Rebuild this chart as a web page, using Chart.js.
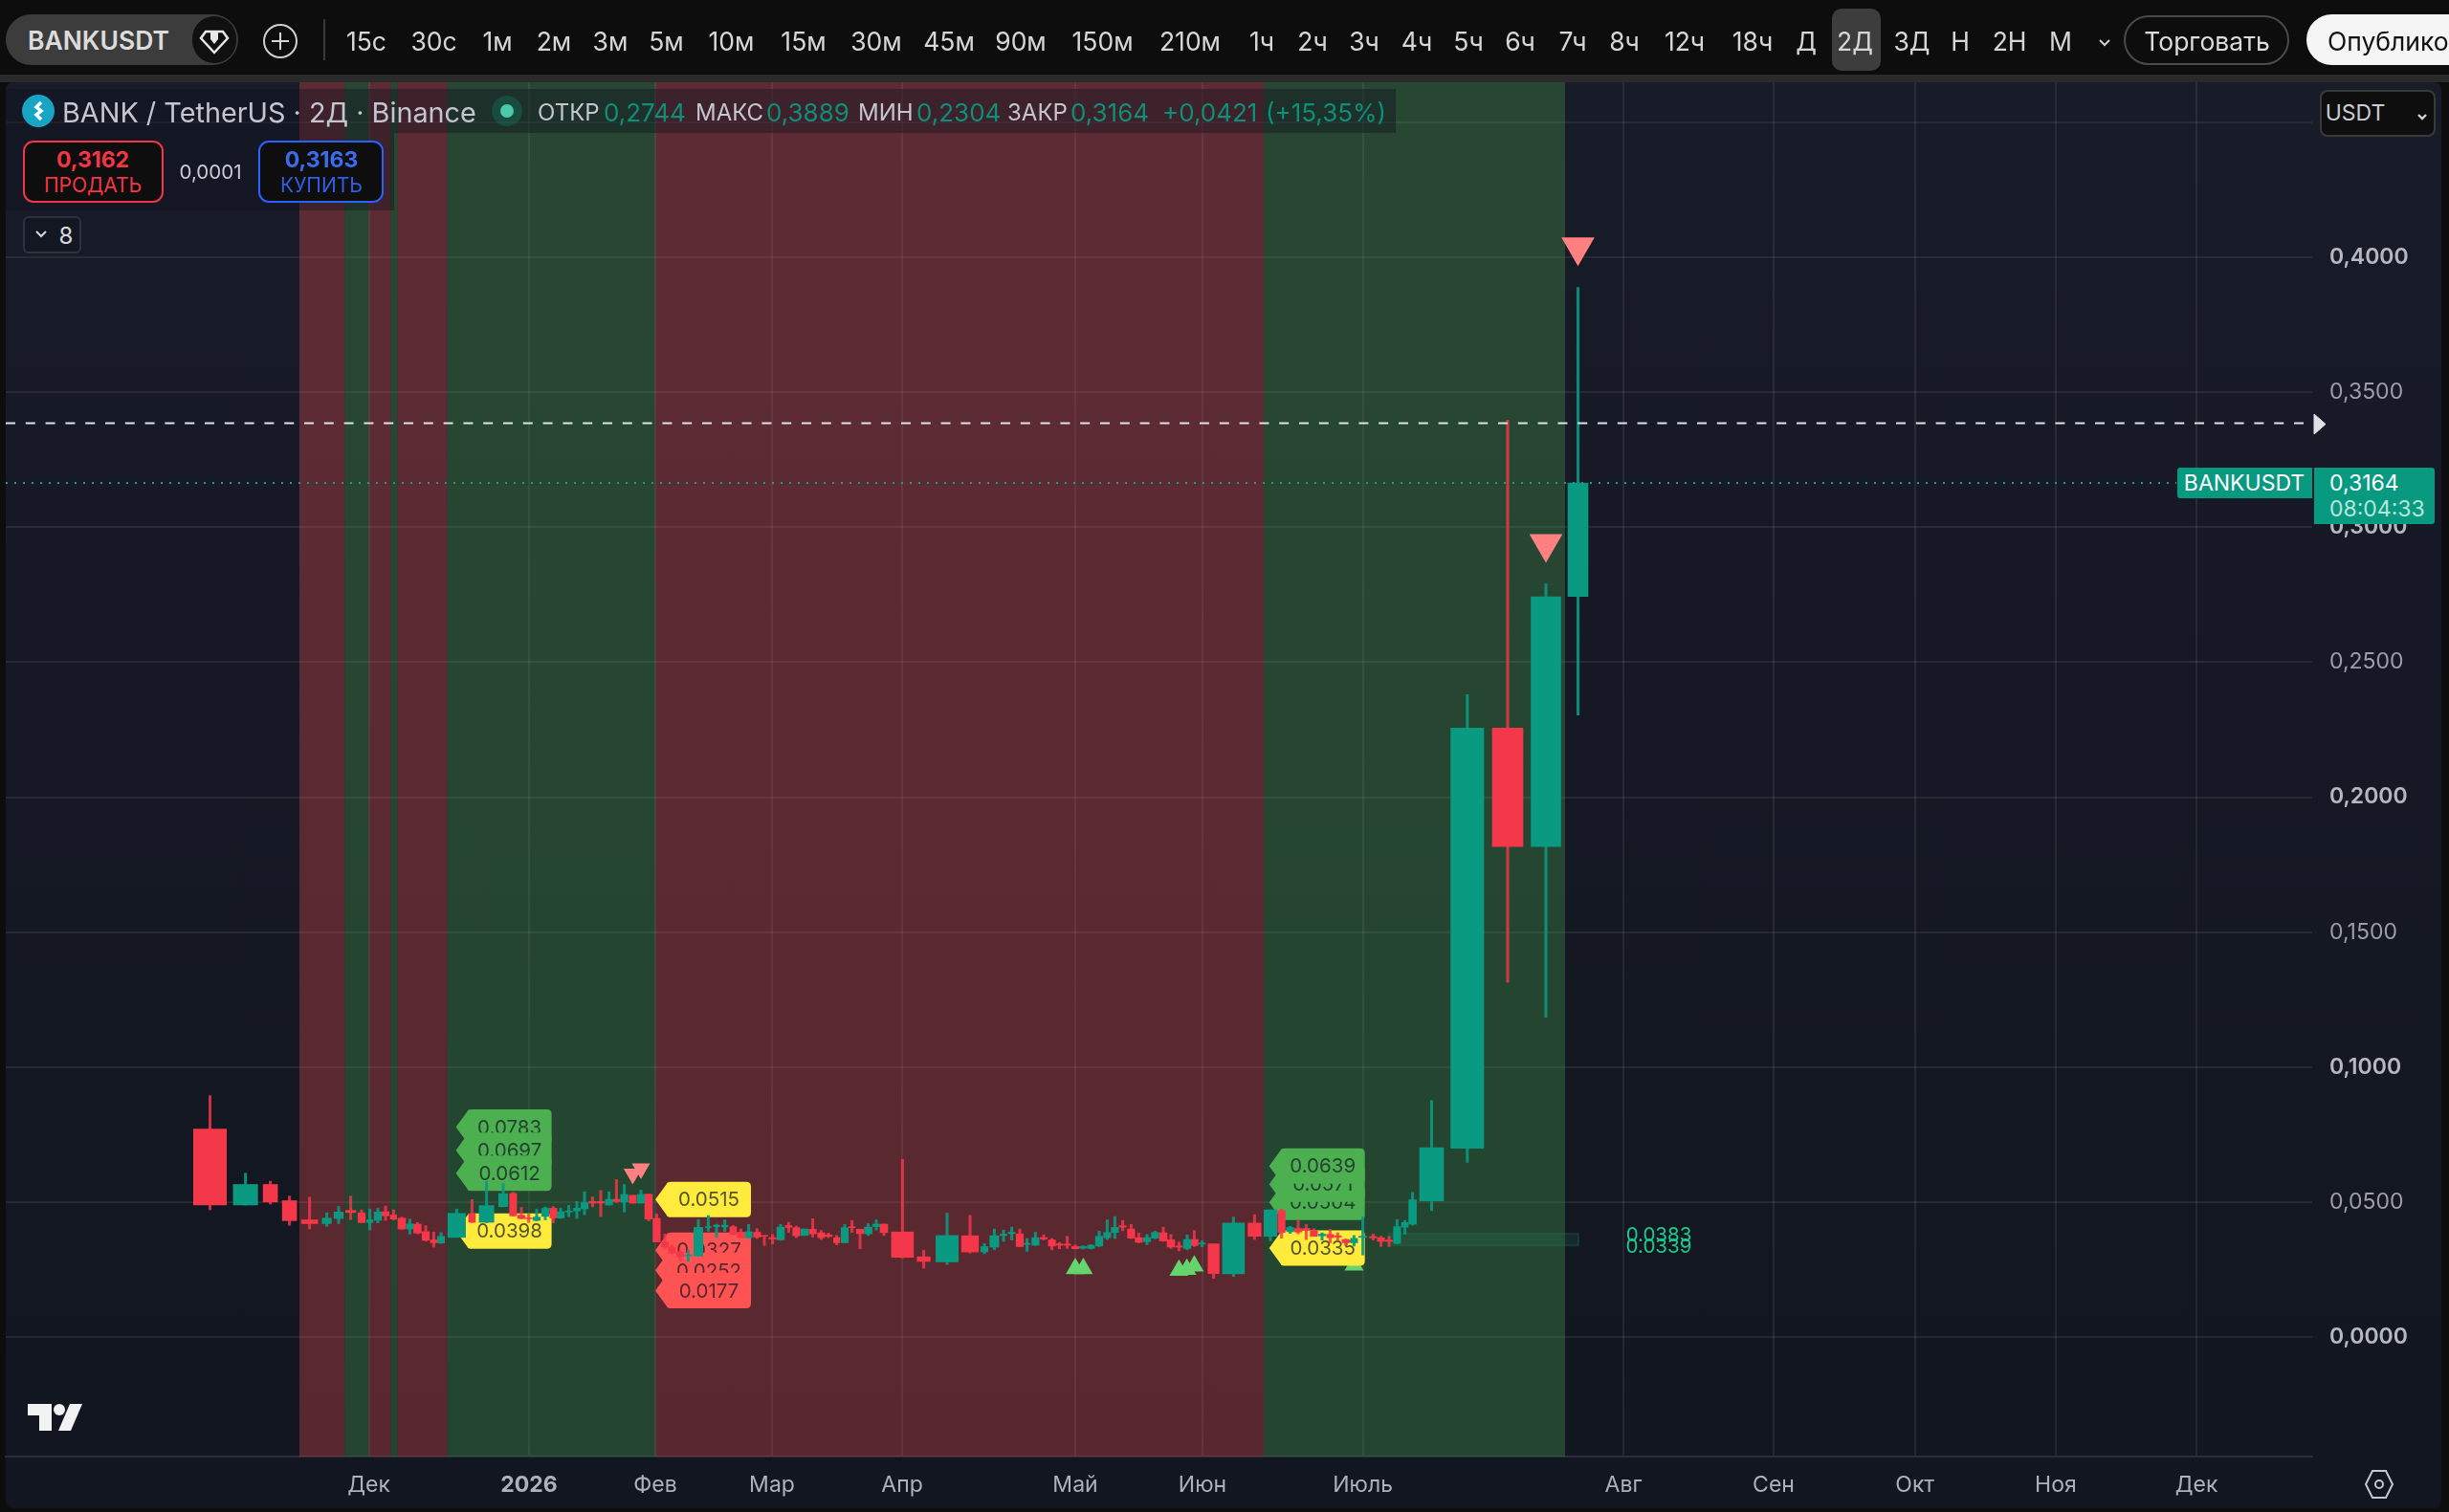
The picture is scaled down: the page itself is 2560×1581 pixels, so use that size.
<!DOCTYPE html>
<html lang="ru">
<head>
<meta charset="utf-8">
<title>BANKUSDT</title>
<script src="https://cdn.jsdelivr.net/npm/chart.js@4/dist/chart.umd.min.js"></script>
<style>
    html, body { margin: 0; padding: 0; width: 2560px; height: 1581px; overflow: hidden; background: #0d0d0d; font-family: Inter, sans-serif; }
    #panel { position: absolute; left: 6px; top: 86px; width: 2546px; height: 1491px; border-radius: 8px; background: linear-gradient(#181b28, #121620); }
    #sep { position: absolute; left: 0; top: 78px; width: 2560px; height: 8px; background: #2a2a2a; }
    canvas { position: absolute; left: 0; top: 0; }
    .ui { position: absolute; z-index: 2; white-space: nowrap; }
    .mid { transform: translate(-50%, -50%); }
    .tf { color: #d6d6d6; font-size: 26.5px; }
    .legendTxt { font-size: 24px; color: #c3c6cf; top: 117px; transform: translateY(-50%); }
    .legendVal { color: #0e8f78; font-size: 26px; }
</style>
</head>
<body>
<div id="sep"></div>
<div id="panel"></div>
<canvas id="chart" width="2560" height="1581"></canvas>
<div id="ui"></div>
<script>
// Candles, left to right. barPos is the place on the compressed time axis, barVolume the candle width
const barPos = [10.75, 29.3, 42.3, 52.3, 62.8, 71.8, 78, 84.3, 90, 94.3, 98.5, 102.5, 106.7, 111, 115.2, 119.2, 123.5, 127.7, 131.5, 139.7,
    147.7, 155.3, 164, 169.2, 173.5, 177.3, 181.5, 186, 190.2, 194, 198.3, 202.5, 206.5, 210.7, 215, 219.3, 223.2, 227.3, 231.7, 236,
    240, 244.2, 248.5, 252.2, 256.5, 260.7, 266, 271.2, 275.5, 279.8, 284.2, 288.2, 292.3, 296.7, 300.5, 304.8, 309, 313.2, 317.2, 321.5,
    325.8, 330.2, 334, 338.3, 342.5, 346.3, 350.5, 354.8, 359, 363, 372.7, 383.8, 396, 408, 415.5, 420.7, 425.5, 429.8, 434, 437.8,
    442.2, 446.5, 450.8, 454.7, 458.8, 463, 467, 471.2, 475.5, 479.7, 483.7, 487.8, 492.2, 496.2, 500.5, 504.7, 509, 513, 517.2, 521.5,
    525.2, 529.3, 535.3, 545.7, 556.7, 565, 570.8, 575.3, 579.5, 583.7, 587.7, 592, 596.2, 600.2, 604.3, 608.7, 613.3, 618.7, 622.8, 627,
    631.2, 635.3, 639.3, 649.25, 667.9, 689, 709, 725.75];
const barVolume = [17.2, 12.7, 7.5, 7.5, 8.5, 4.8, 4.8, 5.3, 3.8, 3.3, 3.8, 3.7, 3.3, 4, 3.5, 4, 3.8, 3.5, 3.7, 9.2,
    3.5, 7.7, 4.7, 3.7, 3.8, 3.7, 3.8, 3.8, 3.7, 3.8, 3.7, 3.5, 3.7, 3.8, 3.8, 3.8, 3.8, 3.8, 3.7, 3.8,
    4, 3.8, 3.7, 3.7, 3.7, 3.5, 4.7, 3, 3.3, 3.3, 3.5, 3.7, 3.7, 3.7, 3.7, 3.7, 4, 3.5, 3.7, 4,
    3.8, 3.7, 4, 3.3, 3.8, 3.3, 3.8, 4, 3.8, 4, 11.5, 6.8, 11.7, 8.8, 3.8, 4.7, 3.7, 3.7, 3.8, 3.3,
    3.8, 3.7, 3.7, 3.5, 3.7, 3.8, 3.5, 3.7, 3.8, 3.7, 3.8, 3.8, 3.8, 3.8, 3.8, 3.8, 4, 4, 3.5, 4,
    4, 3.5, 5.8, 11.5, 6.8, 6.7, 3.8, 3.7, 3.8, 3.8, 3.8, 3.8, 3.5, 3.7, 3.8, 3.7, 4.3, 3.8, 3.8, 3.7,
    3.7, 3.5, 4, 12.5, 17.2, 16, 15.5, 10.5];
const barOpen = [.0770, .0489, .0565, .0505, .0434, .0420, .0439, .0469, .0460, .0424, .0432, .0464, .0452, .0440, .0400, .0418, .0390, .0360, .0348, .0369,
    .0457, .0425, .0483, .0532, .0451, .0441, .0432, .0447, .0477, .0441, .0463, .0467, .0475, .0502, .0502, .0489, .0510, .0500, .0525, .0496,
    .0529, .0439, .0352, .0333, .0314, .0301, .0300, .0405, .0409, .0408, .0408, .0388, .0368, .0388, .0376, .0368, .0360, .0413, .0405, .0376,
    .0399, .0386, .0378, .0368, .0349, .0409, .0399, .0382, .0409, .0418, .0389, .0297, .0278, .0375, .0315, .0333, .0376, .0383, .0382, .0343,
    .0340, .0368, .0360, .0345, .0344, .0335, .0329, .0328, .0337, .0368, .0387, .0412, .0400, .0368, .0353, .0366, .0386, .0360, .0337, .0328,
    .0361, .0344, .0345, .0234, .0422, .0373, .0468, .0390, .0402, .0402, .0394, .0375, .0380, .0375, .0361, .0349, .0369, .0372, .0368, .0359,
    .0347, .0407, .0418, .0504, .0699, .2256, .1817, .2744];
const barHigh = [.0894, .0607, .0577, .0522, .0518, .0460, .0484, .0522, .0471, .0474, .0477, .0485, .0471, .0444, .0437, .0424, .0412, .0389, .0387, .0474,
    .0509, .0577, .0568, .0536, .0480, .0456, .0474, .0482, .0483, .0477, .0488, .0502, .0538, .0519, .0543, .0538, .0583, .0565, .0525, .0544,
    .0529, .0456, .0382, .0341, .0321, .0321, .0435, .0450, .0418, .0434, .0413, .0400, .0417, .0401, .0376, .0380, .0417, .0425, .0411, .0400,
    .0438, .0395, .0385, .0376, .0417, .0432, .0399, .0420, .0434, .0418, .0658, .0321, .0459, .0451, .0346, .0400, .0396, .0407, .0400, .0365,
    .0388, .0379, .0365, .0350, .0373, .0341, .0338, .0342, .0392, .0434, .0446, .0432, .0417, .0385, .0380, .0392, .0407, .0380, .0352, .0378,
    .0394, .0356, .0345, .0444, .0453, .0471, .0474, .0410, .0434, .0417, .0401, .0386, .0399, .0386, .0363, .0376, .0445, .0382, .0373, .0373,
    .0435, .0432, .0536, .0876, .2380, .3397, .2790, .3889];
const barLow = [.0471, .0489, .0493, .0414, .0400, .0410, .0420, .0435, .0423, .0397, .0423, .0432, .0434, .0399, .0381, .0382, .0356, .0333, .0347, .0369,
    .0424, .0423, .0482, .0448, .0437, .0424, .0430, .0434, .0423, .0439, .0446, .0439, .0453, .0482, .0446, .0489, .0498, .0463, .0496, .0496,
    .0430, .0352, .0326, .0309, .0282, .0280, .0300, .0392, .0368, .0391, .0378, .0366, .0366, .0365, .0339, .0345, .0358, .0387, .0368, .0376,
    .0370, .0361, .0368, .0342, .0349, .0387, .0327, .0376, .0396, .0376, .0293, .0255, .0269, .0311, .0308, .0323, .0354, .0359, .0335, .0317,
    .0339, .0360, .0323, .0327, .0328, .0326, .0326, .0326, .0335, .0361, .0365, .0394, .0365, .0349, .0342, .0364, .0354, .0328, .0319, .0323,
    .0335, .0334, .0217, .0224, .0361, .0356, .0366, .0384, .0382, .0361, .0373, .0359, .0349, .0356, .0339, .0337, .0304, .0359, .0335, .0335,
    .0345, .0381, .0414, .0468, .0647, .1314, .1185, .2304];
const barClose = [.0489, .0565, .0500, .0431, .0420, .0440, .0463, .0461, .0424, .0434, .0463, .0449, .0437, .0400, .0419, .0385, .0358, .0349, .0373, .0458,
    .0425, .0487, .0531, .0449, .0439, .0438, .0444, .0477, .0441, .0464, .0467, .0477, .0498, .0496, .0496, .0510, .0502, .0528, .0496, .0528,
    .0437, .0352, .0333, .0311, .0297, .0304, .0406, .0409, .0414, .0414, .0380, .0368, .0390, .0370, .0373, .0363, .0407, .0406, .0375, .0400,
    .0382, .0368, .0373, .0349, .0405, .0405, .0383, .0407, .0418, .0387, .0295, .0280, .0376, .0315, .0335, .0375, .0381, .0388, .0335, .0347,
    .0368, .0363, .0337, .0340, .0340, .0327, .0335, .0340, .0373, .0387, .0406, .0407, .0366, .0351, .0368, .0387, .0356, .0333, .0333, .0361,
    .0339, .0348, .0235, .0422, .0373, .0471, .0387, .0406, .0389, .0396, .0373, .0381, .0368, .0370, .0349, .0365, .0373, .0367, .0354, .0354,
    .0409, .0424, .0508, .0701, .2256, .1817, .2742, .3164];

// Axis ticks
const monthPos = [93.75, 177.5, 243.5, 304.5, 372.5, 463, 529.5, 613.3, 749.5, 828, 901.85, 975.45, 1049];
const monthLabels = ['Дек', '2026', 'Фев', 'Мар', 'Апр', 'Май', 'Июн', 'Июль', 'Авг', 'Сен', 'Окт', 'Ноя', 'Дек'];
const priceTicks = [0, .05, .1, .15, .2, .25, .3, .35, .4, .45];
const priceTickLabels = ['0,0000', '0,0500', '0,1000', '0,1500', '0,2000', '0,2500', '0,3000', '0,3500', '0,4000', ''];

// Trend background bands
const bandStart = [57.5, 81.25, 93.75, 105.25, 108.75, 134.75, 243.5, 561.5];
const bandEnd = [81.25, 93.75, 105.25, 108.75, 134.75, 243.5, 561.5, 719];
const bandKind = ['down', 'up', 'down', 'up', 'down', 'up', 'down', 'up'];

// Price tags in drawing order: later ones lie on top
const tagPos = [139.3, 139.3, 139.3, 139.3, 243.5, 243.5, 243.5, 243.5, 564.35, 564.35, 564.35, 564.35];
const tagValue = [.0783, .0697, .0612, .0398, .0515, .0327, .0252, .0177, .0504, .0571, .0639, .0335];
const tagKind = ['target', 'target', 'target', 'entry', 'entry', 'stop', 'stop', 'stop', 'target', 'target', 'target', 'entry'];

// Markers
const bigDownPos = [725.75, 709];
const bigDownValue = [.4039, .2939];
const smallDownPos = [231.7, 236];
const smallDownValue = [.0604, .0624];
const upPos = [463, 467.2, 517.2, 521.3, 525.2, 608.7];
const upValue = [.0253, .0253, .0247, .0251, .0263, .0267];

// Lines and the small zone on the right
const crossValue = .3386;
const lastPrice = .3164;
const lastPriceEnd = 1038.5;
const zoneStart = 626.9;
const zoneEnd = 726;
const zoneTop = .0383;
const zoneBottom = .0339;
const zoneTextPos = 767.5;

const xMin = -96;
const xMax = 1109.5;
const yMin = -.0443;
const yMax = .4649;

const UP = '#0a9981';
const DOWN = '#f5374a';
const BAR_SCALE = 2; // pixels per volume unit
const TAG_COLORS = { target: '#4caf50', entry: '#ffeb3b', stop: '#ff5252' };

function buildDatasets() {
    const colors = barOpen.map((o, i) => barClose[i] >= o ? UP : DOWN);
    const wickColors = barOpen.map((o, i) => barClose[i] >= o ? 'rgba(10,153,129,.9)' : 'rgba(245,55,74,.82)');
    const marker = (points, color, radius, rotation) => ({
        type: 'scatter', data: points, pointStyle: 'triangle', pointBackgroundColor: color,
        pointBorderWidth: 0, pointRadius: radius, pointRotation: rotation, order: 5
    });
    const list = [
        marker(bigDownPos.map((x, i) => ({ x, y: bigDownValue[i] })), '#ff8080', 20, 180),
        marker(smallDownPos.map((x, i) => ({ x, y: smallDownValue[i] })), '#ff8080', 11, 180),
        marker(upPos.map((x, i) => ({ x, y: upValue[i] })), '#66d46c', 11.5, 0),
        {
            type: 'bar', label: 'wicks', grouped: false, barThickness: 2.4, order: 2, borderWidth: 0,
            backgroundColor: wickColors,
            data: barPos.map((x, i) => ({ x, y: [barLow[i], barHigh[i]] }))
        },
        {
            type: 'line', data: [{ x: xMin, y: crossValue }, { x: xMax, y: crossValue }], borderColor: '#e0e1e6',
            borderWidth: 2, borderDash: [10, 10.8], pointRadius: 0, order: 0
        },
        {
            type: 'line', data: [{ x: xMin, y: lastPrice }, { x: lastPriceEnd, y: lastPrice }], borderColor: '#1f9c86',
            borderWidth: 2, borderDash: [2, 7], pointRadius: 0, order: 0
        }
    ];
    // every body is its own dataset because each one has its own width
    barPos.forEach((x, i) => {
        list.push({
            type: 'bar', grouped: false, barThickness: barVolume[i] * BAR_SCALE, order: 1, borderWidth: 0,
            backgroundColor: colors[i],
            data: [{ x, y: [barOpen[i], barClose[i]] }]
        });
    });
    return list;
}

function drawTag(ctx, tip, mid, text, kind) {
    const left = tip + 12, right = tip + 100, h = 37, r = 5;
    ctx.fillStyle = TAG_COLORS[kind];
    ctx.beginPath();
    ctx.moveTo(tip, mid);
    ctx.lineTo(left, mid - h / 2 + 2);
    ctx.quadraticCurveTo(left, mid - h / 2, left + r, mid - h / 2);
    ctx.lineTo(right - r, mid - h / 2);
    ctx.quadraticCurveTo(right, mid - h / 2, right, mid - h / 2 + r);
    ctx.lineTo(right, mid + h / 2 - r);
    ctx.quadraticCurveTo(right, mid + h / 2, right - r, mid + h / 2);
    ctx.lineTo(left + r, mid + h / 2);
    ctx.quadraticCurveTo(left, mid + h / 2, left, mid + h / 2 - 2);
    ctx.closePath();
    ctx.fill();
    ctx.fillStyle = 'rgba(19,23,34,.72)';
    ctx.font = '20.5px Inter';
    ctx.textAlign = 'center';
    ctx.textBaseline = 'middle';
    ctx.fillText(text, (left + right) / 2, mid + 1);
}

const backdropPlugin = {
    id: 'backdrop',
    // bands sit over the grid and under all the marks
    beforeDatasetsDraw(chart) {
        const { ctx, scales, chartArea } = chart;
        bandStart.forEach((start, i) => {
            const a = scales.x.getPixelForValue(start);
            const b = scales.x.getPixelForValue(bandEnd[i]);
            ctx.fillStyle = bandKind[i] === 'up' ? 'rgba(76,175,80,.3)' : 'rgba(255,82,82,.3)';
            ctx.fillRect(a, chartArea.top, b - a, chartArea.bottom - chartArea.top);
        });
    },
    // tags and the zone go under the candles
    beforeDatasetDraw(chart, args) {
        if (chart.data.datasets[args.index].label !== 'wicks') return;
        const { ctx, scales } = chart;
        const zx = scales.x.getPixelForValue(zoneStart);
        const zw = scales.x.getPixelForValue(zoneEnd) - zx;
        const zy = scales.y.getPixelForValue(zoneTop);
        const zh = scales.y.getPixelForValue(zoneBottom) - zy;
        ctx.save();
        ctx.fillStyle = 'rgba(30,140,100,.16)';
        ctx.strokeStyle = 'rgba(30,140,100,.22)';
        ctx.lineWidth = 2;
        ctx.fillRect(zx, zy, zw, zh);
        ctx.strokeRect(zx, zy, zw, zh);
        ctx.fillStyle = '#1ccb8b';
        ctx.font = '20.5px Inter';
        ctx.textAlign = 'center';
        ctx.textBaseline = 'middle';
        ctx.fillText(zoneTop.toFixed(4), scales.x.getPixelForValue(zoneTextPos) + 1, zy + 2);
        ctx.fillText(zoneBottom.toFixed(4), scales.x.getPixelForValue(zoneTextPos) + 1, zy + zh + 2);
        tagPos.forEach((pos, i) => {
            drawTag(ctx, scales.x.getPixelForValue(pos), scales.y.getPixelForValue(tagValue[i]) + 1.5, tagValue[i].toFixed(4), tagKind[i]);
        });
        ctx.restore();
    }
};

new Chart(document.getElementById('chart').getContext('2d'), {
    type: 'bar',
    data: { datasets: buildDatasets() },
    plugins: [backdropPlugin],
    options: {
        responsive: false,
        devicePixelRatio: 1,
        animation: false,
        events: [],
        layout: { autoPadding: false, padding: { left: 6, top: 86, right: 8, bottom: 4 } },
        plugins: { legend: { display: false }, tooltip: { enabled: false } },
        scales: {
            x: {
                type: 'linear', offset: false, min: xMin, max: xMax,
                grid: { offset: false, color: 'rgba(255,255,255,.075)', lineWidth: 2, drawTicks: false },
                border: { color: '#2a2e39', width: 2 },
                afterBuildTicks(scale) { scale.ticks = monthPos.map(value => ({ value })); },
                afterFit(scale) { scale.height = 54; scale.paddingLeft = 0; scale.paddingRight = 0; },
                ticks: {
                    autoSkip: false, maxRotation: 0, padding: 16, color: '#aeb1bb',
                    font: ctx => ({ family: 'Inter', size: 23, weight: monthLabels[ctx.index] === '2026' ? '700' : '400' }),
                    callback: (value, index) => monthLabels[index]
                }
            },
            y: {
                type: 'linear', position: 'right', min: yMin, max: yMax,
                grid: { color: 'rgba(255,255,255,.075)', lineWidth: 2, drawTicks: false },
                border: { display: false },
                afterBuildTicks(scale) { scale.ticks = priceTicks.map(value => ({ value })); },
                afterFit(scale) { scale.width = 135; },
                ticks: {
                    autoSkip: false, padding: 18, crossAlign: 'near',
                    color: ctx => ctx.index % 2 === 0 ? '#b5b8c1' : '#9b9ea8',
                    font: ctx => ({ family: 'Inter', size: 23, weight: ctx.index % 2 === 0 ? '600' : '400' }),
                    callback: (value, index) => priceTickLabels[index]
                }
            }
        }
    }
});

// Everything around the plot
const timeframes = [['15с', 383], ['30с', 453.6], ['1м', 520], ['2м', 579], ['3м', 638], ['5м', 696.5], ['10м', 764.5], ['15м', 840], ['30м', 916], ['45м', 992],
    ['90м', 1067], ['150м', 1152.6], ['210м', 1244], ['1ч', 1319], ['2ч', 1372], ['3ч', 1426], ['4ч', 1481], ['5ч', 1535], ['6ч', 1589], ['7ч', 1644], ['8ч', 1698],
    ['12ч', 1761], ['18ч', 1832], ['Д', 1888], ['2Д', 1939], ['3Д', 1998.5], ['Н', 2049], ['2Н', 2100.6], ['М', 2154]];
const legendItems = [['ОТКР', 562, 0], ['0,2744', 631, 1], ['МАКС', 727, 0], ['0,3889', 801, 1], ['МИН', 897, 0], ['0,2304', 958, 1],
    ['ЗАКР', 1053, 0], ['0,3164', 1119, 1], ['+0,0421', 1215, 1], ['(+15,35%)', 1323, 1]];

function box(x, y, w, h, css, html) {
    return `<div class="ui" style="left:${x}px;top:${y}px;width:${w}px;height:${h}px;${css}">${html || ''}</div>`;
}
function label(x, y, text, css) {
    return `<div class="ui mid" style="left:${x}px;top:${y}px;${css}">${text}</div>`;
}

function buildUi() {
    let html = '';
    // top bar
    html += box(6, 15, 243, 53, 'background:#3c3c3c;border-radius:27px;');
    html += label(103, 42, 'BANKUSDT', 'color:#dcdcdc;font-size:26.5px;font-weight:600;');
    html += box(201, 17, 46, 49, 'background:#101010;border-radius:25px;',
        '<svg width="46" height="49" viewBox="0 0 46 49"><path d="M14 16h18l5 7-14 15L9 23z" fill="none" stroke="#e8e8e8" stroke-width="2.5"/><path d="M19 16h8v8l-4 5-4-5z" fill="#e8e8e8"/></svg>');
    html += box(275, 25, 36, 36, 'border:2px solid #cfcfcf;border-radius:50%;box-sizing:border-box;',
        '<svg width="32" height="32" viewBox="0 0 32 32"><path d="M16 7v18M7 16h18" stroke="#d6d6d6" stroke-width="2"/></svg>');
    html += box(338, 20, 2, 43, 'background:#3a3a3a;');
    html += box(1915, 9, 51, 65, 'background:#3d3d3d;border-radius:10px;');
    timeframes.forEach(t => { html += `<div class="ui mid tf" style="left:${t[1]}px;top:43px;">${t[0]}</div>`; });
    html += box(2192, 36, 16, 14, '', '<svg width="16" height="14" viewBox="0 0 16 14"><path d="M3 4l5 5 5-5" fill="none" stroke="#cfcfcf" stroke-width="2"/></svg>');
    html += box(2220, 16, 173, 52, 'border:2px solid #4a4a4a;border-radius:27px;box-sizing:border-box;');
    html += label(2307, 43, 'Торговать', 'color:#dcdcdc;font-size:26.5px;');
    html += box(2411, 15, 149, 53, 'background:#f5f5f5;border-radius:27px 0 0 27px;overflow:hidden;',
        '<div style="position:absolute;left:22px;top:12px;color:#111;font-size:26.5px;">Опубликовать</div>');

    // legend strip
    html += box(6, 93, 1453, 46, 'background:rgba(16,20,30,.42);');
    html += box(6, 139, 406, 81, 'background:rgba(16,20,30,.42);');
    html += box(23, 99, 34, 34, 'background:#18a5c4;border-radius:50%;',
        '<svg width="34" height="34" viewBox="0 0 34 34"><path d="M20 8l-5 5 5 4-5 4 5 5" fill="none" stroke="#fff" stroke-width="3.5"/></svg>');
    html += `<div class="ui legendTxt" style="left:65px;font-size:28.8px;">BANK / TetherUS · 2Д · Binance</div>`;
    html += box(514, 100, 32, 32, 'background:rgba(10,153,129,.25);border-radius:50%;',
        '<div style="position:absolute;left:9px;top:9px;width:14px;height:14px;border-radius:50%;background:#4cc9a8;"></div>');
    legendItems.forEach(t => {
        html += `<div class="ui legendTxt ${t[2] ? 'legendVal' : ''}" style="left:${t[1]}px;">${t[0]}</div>`;
    });

    // sell / buy
    html += box(24, 147, 147, 65, 'background:#0e0e0e;border:2px solid #f23645;border-radius:11px;box-sizing:border-box;');
    html += label(97, 167, '0,3162', 'color:#f23645;font-size:23px;font-weight:700;');
    html += label(97, 193, 'ПРОДАТЬ', 'color:#f23645;font-size:21px;');
    html += label(220, 179, '0,0001', 'color:#c9ccd4;font-size:20.5px;');
    html += box(270, 147, 131, 65, 'background:#0e0e0e;border:2px solid #2962ff;border-radius:11px;box-sizing:border-box;');
    html += label(336, 167, '0,3163', 'color:#3b6cf0;font-size:23px;font-weight:700;');
    html += label(336, 193, 'КУПИТЬ', 'color:#2f5fe8;font-size:21px;');
    html += box(24, 226, 61, 39, 'background:#131722;border:2px solid #2e3240;border-radius:6px;box-sizing:border-box;',
        '<svg style="position:absolute;left:9px;top:11px" width="16" height="12" viewBox="0 0 16 12"><path d="M3 3l5 5 5-5" fill="none" stroke="#d6d8de" stroke-width="2"/></svg>');
    html += label(69, 246, '8', 'color:#d6d8de;font-size:24px;');

    // right side
    html += box(2425, 94, 121, 49, 'background:#0e0e0e;border:2px solid #3a3a3a;border-radius:8px;box-sizing:border-box;');
    html += label(2462, 118, 'USDT', 'color:#c9ccd4;font-size:23px;');
    html += box(2524, 113, 16, 12, '', '<svg width="16" height="12" viewBox="0 0 16 12"><path d="M4 3l4 4 4-4" fill="none" stroke="#d0d2d8" stroke-width="2.4"/></svg>');
    html += box(2418, 432, 14, 23, '', '<svg width="14" height="23" viewBox="0 0 14 23"><path d="M1 1l12 10.5L1 22z" fill="#e0e1e6" stroke="#e0e1e6" stroke-linejoin="round"/></svg>');
    html += box(2276, 489, 141, 32, 'background:#089981;border-radius:3px 0 0 3px;');
    html += label(2346, 505, 'BANKUSDT', 'color:#fff;font-size:23px;');
    html += box(2419, 489, 126, 59, 'background:#089981;border-radius:0 3px 3px 0;');
    html += `<div class="ui" style="left:2435px;top:491px;color:#fff;font-size:23px;">0,3164</div>`;
    html += `<div class="ui" style="left:2435px;top:518px;color:#b9e6dc;font-size:23px;">08:04:33</div>`;

    // logo and settings
    html += box(26, 1465, 62, 36, '',
        '<svg width="62" height="36" viewBox="0 0 62 36"><path d="M3 3h25v28H15V15H3z" fill="#f2f2f2"/><circle cx="36" cy="9" r="6" fill="#f2f2f2"/><path d="M47 3h13L48 31H35z" fill="#f2f2f2"/></svg>');
    html += box(2470, 1534, 34, 36, '',
        '<svg width="34" height="36" viewBox="0 0 34 36"><path d="M10 4h14l7 14-7 14H10L3 18z" fill="none" stroke="#c3c6cf" stroke-width="2"/><circle cx="17" cy="18" r="4" fill="none" stroke="#c3c6cf" stroke-width="2"/></svg>');
    document.getElementById('ui').innerHTML = html;
}

buildUi();
</script>
</body>
</html>
